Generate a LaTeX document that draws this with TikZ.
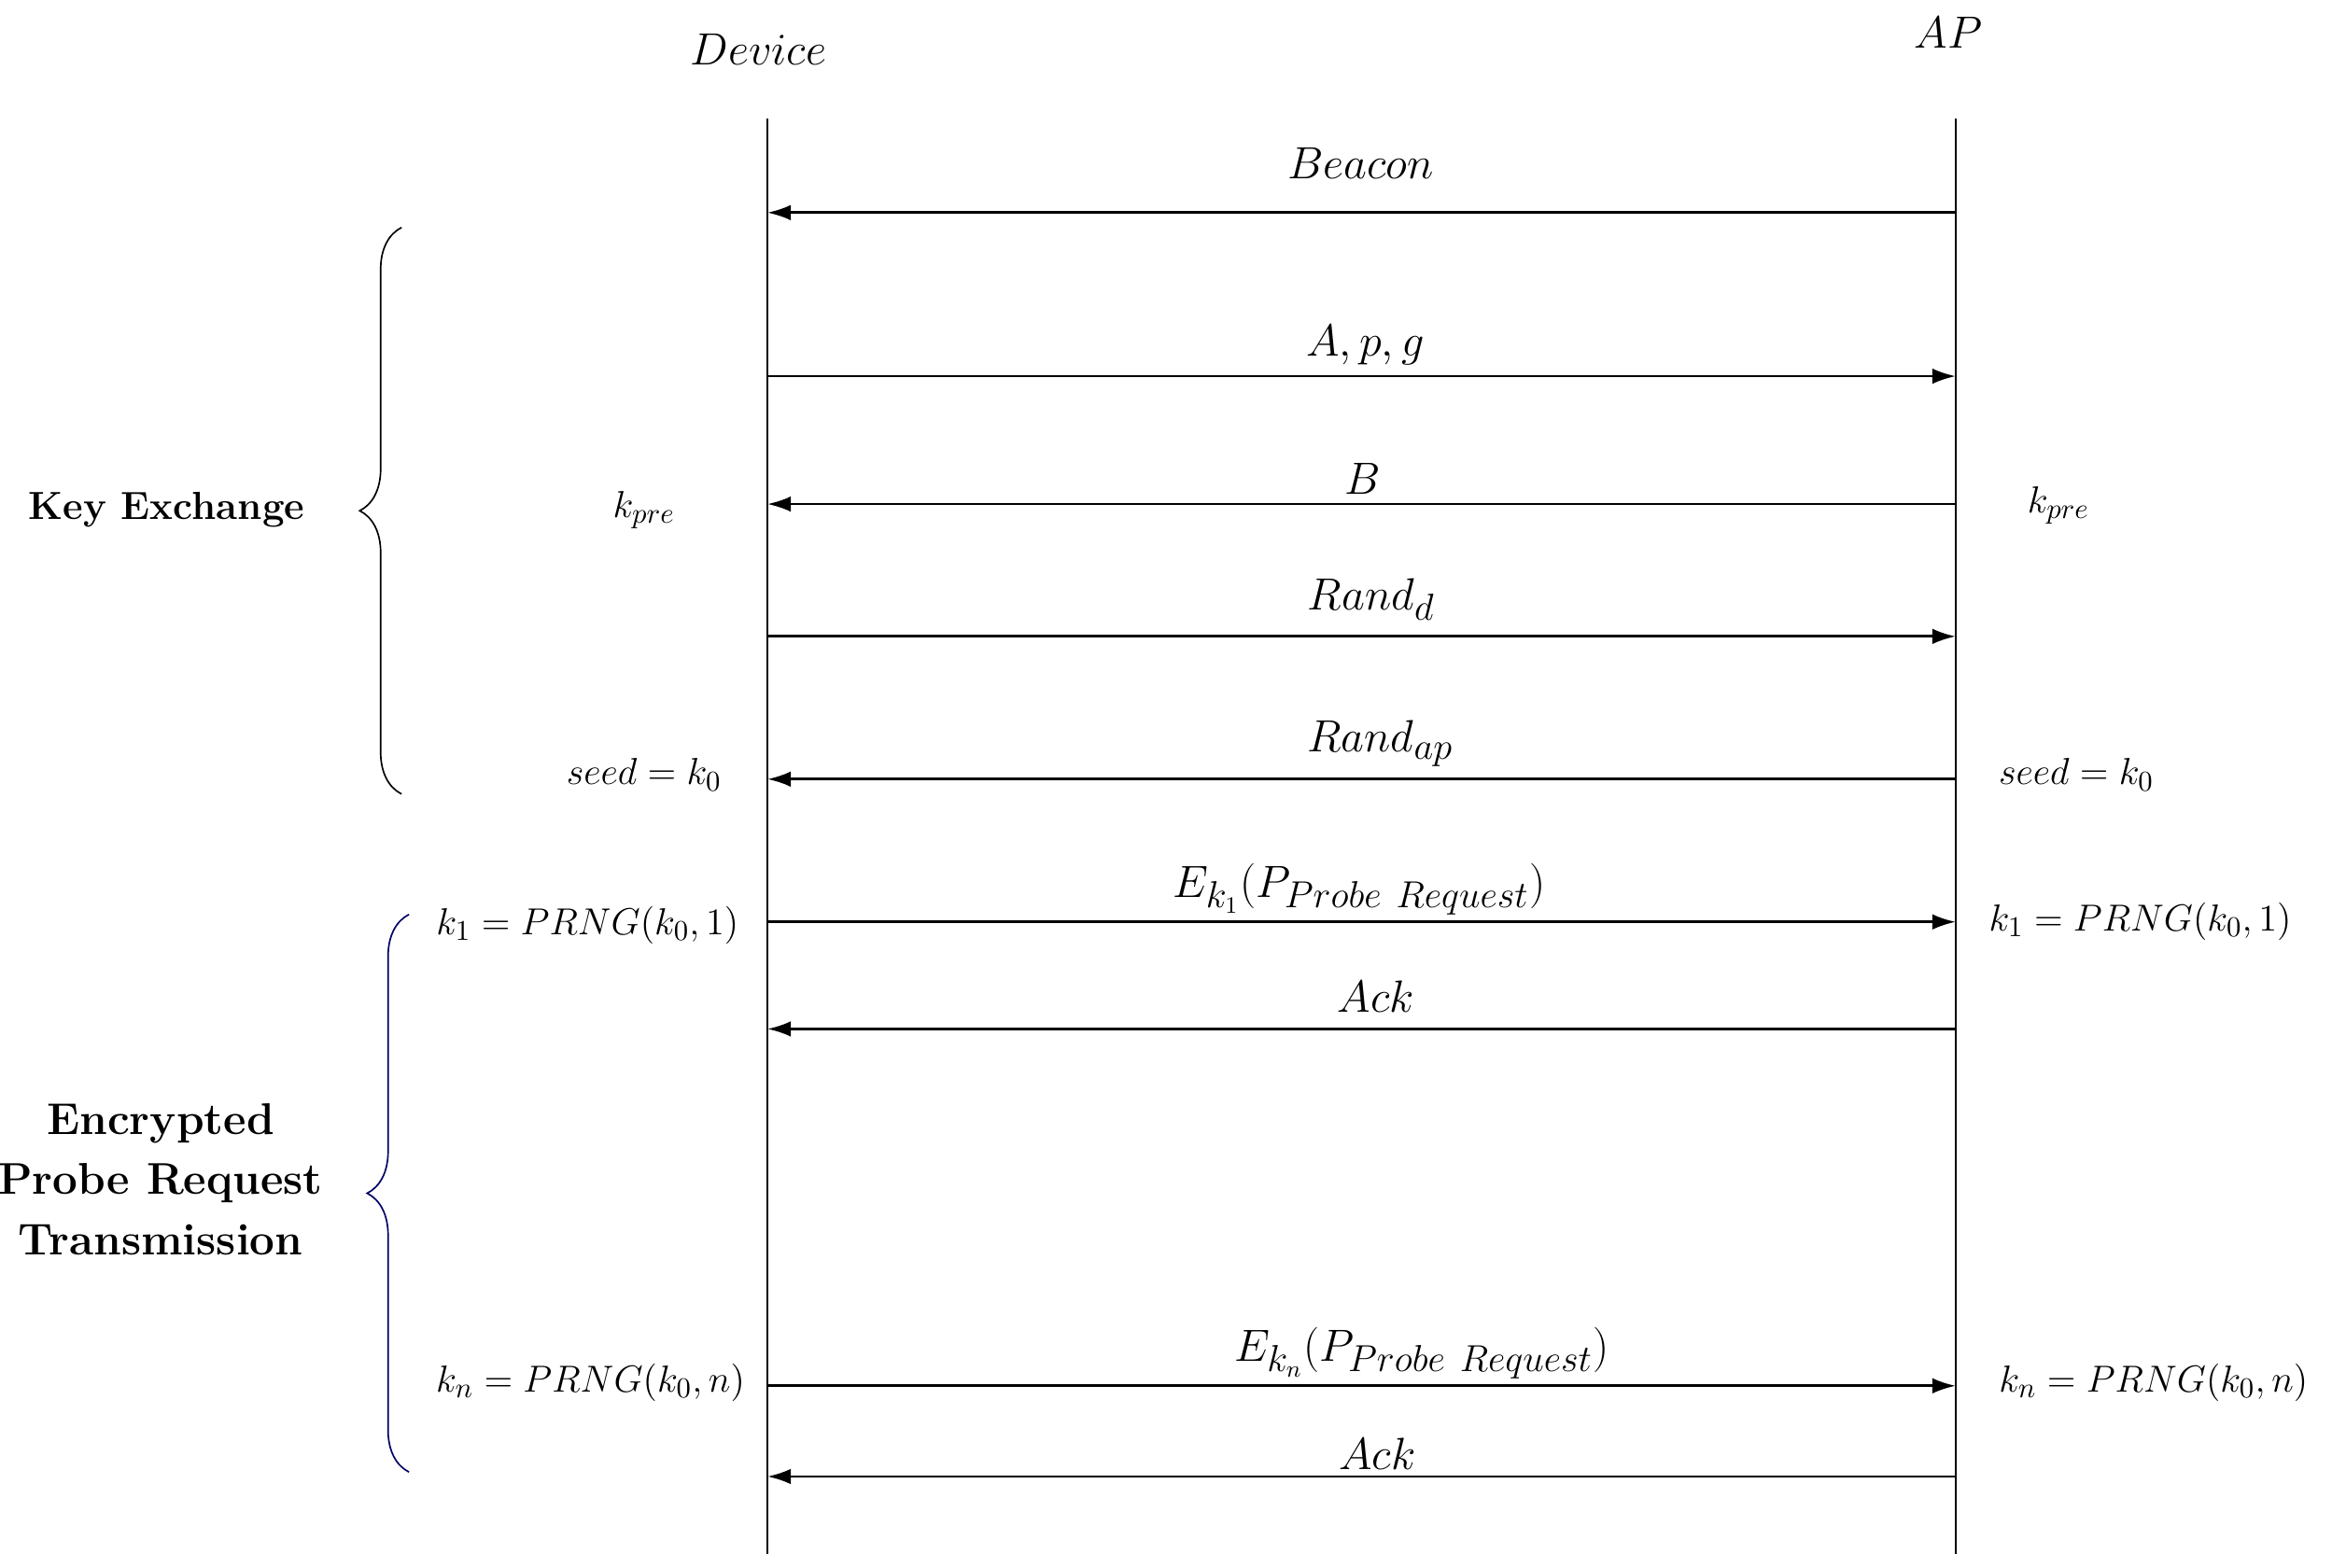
\documentclass[tikz,border=0pt]{standalone}
\usetikzlibrary{arrows.meta,decorations.pathreplacing}
\begin{document}
\begin{tikzpicture}[x=0.02cm,y=-0.02cm,
  life/.style={line width=1pt},
  msg/.style={line width=1pt,-{Latex[length=9pt,width=6pt]}},
  lab/.style={font=\fontsize{19}{22}\selectfont},
  side/.style={font=\fontsize{15}{18}\selectfont},
  grp/.style={font=\fontsize{15}{18}\selectfont\bfseries,align=center},
  br/.style={decorate,decoration={brace,amplitude=16pt},line width=0.6pt}]
\useasboundingbox (0,0) rectangle (1568,1054);
\node[lab] (dev) at (510,33) {$Device$};
\node[lab] (ap) at (1310,22) {$AP$};
\coordinate (dt) at (516,80); \coordinate (db) at (516,1045);
\coordinate (at) at (1315,80); \coordinate (ab) at (1315,1045);
\draw[life] (dt) -- (db); \draw[life] (at) -- (ab);
\foreach \n/\y in {m1/143,m2/253,m3/339,m4/428,m5/524,m6/620,m7/692,m8/932,m9/993}{
  \coordinate (d\n) at (516,\y); \coordinate (a\n) at (1315,\y);}
\draw[msg] (am1) -- (dm1); \node[lab] (l1) at (915,110) {$Beacon$};
\draw[msg] (dm2) -- (am2); \node[lab] (l2) at (918,232) {$A,p,g$};
\draw[msg] (am3) -- (dm3); \node[lab] (l3) at (916,322) {$B$};
\draw[msg] (dm4) -- (am4); \node[lab] (l4) at (922,403) {$Rand_d$};
\draw[msg] (am5) -- (dm5); \node[lab] (l5) at (928,500) {$Rand_{ap}$};
\draw[msg] (dm6) -- (am6); \node[lab] (l6) at (914,598) {$E_{k_1}(P_{Probe\ Request})$};
\draw[msg] (am7) -- (dm7); \node[lab] (l7) at (925,670) {$Ack$};
\draw[msg] (dm8) -- (am8); \node[lab] (l8) at (956,910) {$E_{k_n}(P_{Probe\ Request})$};
\draw[msg] (am9) -- (dm9); \node[lab] (l9) at (926,978) {$Ack$};
\node[side] (s1) at (433,343) {$k_{pre}$};
\node[side] (s2) at (1384,340) {$k_{pre}$};
\node[side] (s3) at (433,521) {$seed=k_0$};
\node[side] (s4) at (1396,521) {$seed=k_0$};
\node[side] (s5) at (395,622) {$k_1=PRNG(k_0,1)$};
\node[side] (s6) at (1439,620) {$k_1=PRNG(k_0,1)$};
\node[side] (s7) at (397,930) {$k_n=PRNG(k_0,n)$};
\node[side] (s8) at (1448,930) {$k_n=PRNG(k_0,n)$};
\coordinate (b1t) at (270,153); \coordinate (b1b) at (270,534);
\coordinate (b2t) at (275,615); \coordinate (b2b) at (275,990);
\draw[br] (b1b) -- (b1t);
\draw[br,color=blue!40!black] (b2b) -- (b2t);
\node[grp] (g1) at (112,343) {Key Exchange};
\node[grp,font=\fontsize{17}{23}\selectfont\bfseries] (g2) at (108,793) {Encrypted\\Probe Request\\Transmission};
\end{tikzpicture}
\end{document}
